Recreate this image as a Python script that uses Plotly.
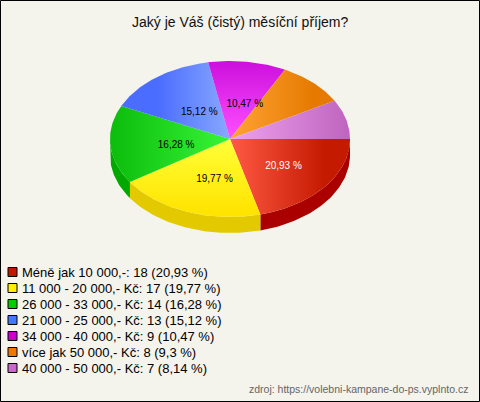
import math

import plotly.graph_objects as go

# data
categories = [
    "Méně jak 10 000,-",
    "11 000 - 20 000,- Kč",
    "26 000 - 33 000,- Kč",
    "21 000 - 25 000,- Kč",
    "34 000 - 40 000,- Kč",
    "více jak 50 000,- Kč",
    "40 000 - 50 000,- Kč",
]
counts = [18, 17, 14, 13, 9, 8, 7]
percent_labels = ["20,93", "19,77", "16,28", "15,12", "10,47", "9,3", "8,14"]

# (colour near the centre, colour at the rim) for the top faces
top_colors = [
    ("#ff5a45", "#c41a00"),
    ("#ffff3a", "#ffe400"),
    ("#38f538", "#0cbc0c"),
    ("#88a8ff", "#4a6cff"),
    ("#ff50ff", "#cc10dd"),
    ("#ffa436", "#e67a00"),
    ("#eea2ee", "#c066c0"),
]
side_colors = ["#aa0000", "#e2c900", "#00a800", "#3355dd", "#aa00bb", "#c86800", "#a855a8"]
legend_colors = ["#c01800", "#ffee00", "#00cc00", "#4477ff", "#cc00cc", "#ee7700", "#cc66cc"]

W, H = 480, 402
CX, CY, RX, RY, DEPTH = 230, 139, 120, 78, 16
FONT = "Liberation Sans, Arial, sans-serif"


def ellipse_pt(deg, dy=0.0, r=1.0):
    a = math.radians(deg)
    return CX + r * RX * math.cos(a), CY + r * RY * math.sin(a) + dy


def arc(a0, a1, dy=0.0, step=1.0):
    n = max(2, int(abs(a1 - a0) / step) + 1)
    return [ellipse_pt(a0 + (a1 - a0) * i / (n - 1), dy) for i in range(n)]


total = sum(counts)
bounds = [0.0]
for c in counts:
    bounds.append(bounds[-1] + 360.0 * c / total)

fig = go.Figure()

# side walls (only the front half, 0..180 deg clockwise from east, is visible)
for i in range(len(counts)):
    a0, a1 = bounds[i], min(bounds[i + 1], 180.0)
    if a0 >= 180.0:
        continue
    pts = arc(a0, a1) + arc(a1, a0, dy=DEPTH)
    fig.add_trace(go.Scatter(
        x=[p[0] for p in pts], y=[p[1] for p in pts],
        mode="lines", fill="toself", fillcolor=side_colors[i],
        line={"width": 0}, hoverinfo="skip", showlegend=False,
    ))

# top faces, shaded lighter towards the centre
for i in range(len(counts)):
    pts = [(CX, CY)] + arc(bounds[i], bounds[i + 1]) + [(CX, CY)]
    mid = math.radians((bounds[i] + bounds[i + 1]) / 2)
    light, dark = top_colors[i]
    if abs(math.cos(mid)) * RX >= abs(math.sin(mid)) * RY:
        orient, centre, rim = "horizontal", CX, CX + RX * math.cos(mid)
    else:
        orient, centre, rim = "vertical", CY, CY + RY * math.sin(mid)
    if centre < rim:
        scale, lo, hi = [[0, light], [1, dark]], centre, rim
    else:
        scale, lo, hi = [[0, dark], [1, light]], rim, centre
    fig.add_trace(go.Scatter(
        x=[p[0] for p in pts], y=[p[1] for p in pts],
        mode="lines", fill="toself",
        fillgradient={"type": orient, "colorscale": scale, "start": lo, "stop": hi},
        line={"width": 0}, hoverinfo="skip", showlegend=False,
    ))

# percentage labels on slices larger than 10 %
lx, ly, lt, lc = [], [], [], []
for i, c in enumerate(counts):
    if 100.0 * c / total < 10:
        continue
    x, y = ellipse_pt((bounds[i] + bounds[i + 1]) / 2, r=0.5)
    lx.append(x + 6)
    ly.append(y + 4)
    lt.append(percent_labels[i] + " %")
    lc.append("#ffffff" if i == 0 else "#000000")
fig.add_trace(go.Scatter(
    x=lx, y=ly, text=lt, mode="text",
    textfont={"family": FONT, "size": 10, "color": lc},
    hoverinfo="skip", showlegend=False,
))

# legend drawn as shapes + annotations
shapes = [dict(type="rect", xref="x", yref="y", x0=0.5, y0=0.5, x1=W - 0.5, y1=H - 0.5,
               line={"color": "#000000", "width": 1}, layer="above")]
annotations = []
for i, name in enumerate(categories):
    yc = 272 + 16 * i
    shapes.append(dict(type="rect", xref="x", yref="y", x0=8, x1=17, y0=yc - 4.5, y1=yc + 4.5,
                       fillcolor=legend_colors[i], line={"color": "#000000", "width": 1}))
    annotations.append(dict(
        x=20, y=yc, xref="x", yref="y", xanchor="left", yanchor="middle",
        text=f"{name}: {counts[i]} ({percent_labels[i]} %)", showarrow=False,
        font={"family": FONT, "size": 13, "color": "#000000"},
    ))

annotations.append(dict(
    x=W / 2, y=22, xref="x", yref="y", xanchor="center", yanchor="middle",
    text="Jaký je Váš (čistý) měsíční příjem?", showarrow=False,
    font={"family": FONT, "size": 14, "color": "#111111"},
))
annotations.append(dict(
    x=470, y=389, xref="x", yref="y", xanchor="right", yanchor="middle",
    text="zdroj: https://volebni-kampane-do-ps.vyplnto.cz", showarrow=False,
    font={"family": FONT, "size": 10.5, "color": "#666666"},
))

fig.update_layout(
    width=W, height=H,
    margin={"l": 0, "r": 0, "t": 0, "b": 0},
    paper_bgcolor="#f4f3ec", plot_bgcolor="#f4f3ec",
    xaxis={"range": [0, W], "visible": False, "fixedrange": True},
    yaxis={"range": [H, 0], "visible": False, "fixedrange": True},
    shapes=shapes, annotations=annotations,
    showlegend=False,
)

fig.write_html(
    "out.html",
    config={"displayModeBar": False},
    post_script="document.body.style.margin='0';document.body.style.overflow='hidden';",
)
